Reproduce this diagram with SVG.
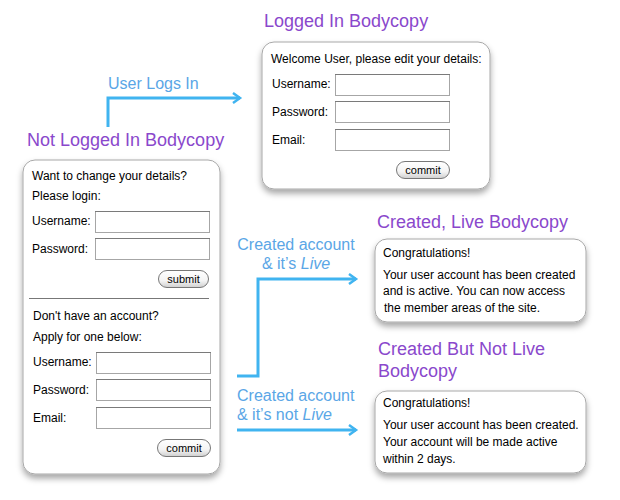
<svg xmlns="http://www.w3.org/2000/svg" width="620" height="500" viewBox="0 0 620 500">
<style>
.t{font-family:"Liberation Sans",Arial,sans-serif;font-size:18px;fill:#8a48cc}
.b{font-family:"Liberation Sans",Arial,sans-serif;font-size:12px;fill:#000}
.btn{font-family:"Liberation Sans",Arial,sans-serif;font-size:11px;fill:#000;text-anchor:middle}
.l{font-family:"Liberation Sans",Arial,sans-serif;font-size:16px;fill:#5aa6e6}
.box{fill:#fff;stroke:#a8a8a8;stroke-width:1;filter:url(#sh)}
.in{fill:#fff;stroke:#a6a6a6;stroke-width:1}
.intop{stroke:#7a7a7a;stroke-width:1}
.pill{fill:url(#bg);stroke:#777;stroke-width:1}
.c{fill:none;stroke:#40b4f0;stroke-width:3;marker-end:url(#ar)}
</style>
<defs>
<filter id="sh" x="-10%" y="-10%" width="120%" height="130%">
<feDropShadow dx="0" dy="4" stdDeviation="3" flood-color="#000" flood-opacity="0.35"/>
</filter>
<linearGradient id="bg" x1="0" y1="0" x2="0" y2="1">
<stop offset="0" stop-color="#fff"/>
<stop offset="0.6" stop-color="#f4f4f4"/>
<stop offset="1" stop-color="#cfcfcf"/>
</linearGradient>
<marker id="ar" markerUnits="userSpaceOnUse" markerWidth="14" markerHeight="14" refX="9" refY="6" orient="auto">
<path d="M2,1 L9,6 L2,11" fill="none" stroke="#40b4f0" stroke-width="2.5"/>
</marker>
</defs>

<g id="connectors">
<path class="c" d="M108,127 V98 H240"/>
<text class="l" x="108" y="89">User Logs In</text>
<path class="c" d="M237,376 H258 V279 H356"/>
<text class="l" x="296" y="250" text-anchor="middle">Created account</text>
<text class="l" x="296" y="269" text-anchor="middle">&amp; it’s <tspan font-style="italic">Live</tspan></text>
<path class="c" d="M237,430 H356"/>
<text class="l" x="237" y="401">Created account</text>
<text class="l" x="237" y="420">&amp; it’s not <tspan font-style="italic">Live</tspan></text>
</g>

<g id="logged-in">
<text class="t" x="264" y="27">Logged In Bodycopy</text>
<rect class="box" x="262" y="42" width="228" height="147" rx="12"/>
<text class="b" x="271" y="63">Welcome User, please edit your details:</text>
<text class="b" x="272" y="88">Username:</text>
<rect class="in" x="335.5" y="74.5" width="114" height="21"/>
<line class="intop" x1="335" y1="74.5" x2="450" y2="74.5"/>
<text class="b" x="272" y="116">Password:</text>
<rect class="in" x="335.5" y="101.5" width="114" height="21"/>
<line class="intop" x1="335" y1="101.5" x2="450" y2="101.5"/>
<text class="b" x="272" y="144">Email:</text>
<rect class="in" x="335.5" y="129.5" width="114" height="21"/>
<line class="intop" x1="335" y1="129.5" x2="450" y2="129.5"/>
<rect class="pill" x="396.5" y="161.5" width="53" height="17" rx="8.5"/>
<text class="btn" x="423" y="174">commit</text>
</g>

<g id="not-logged-in">
<text class="t" x="27" y="146">Not Logged In Bodycopy</text>
<rect class="box" x="23" y="160" width="197" height="314" rx="12"/>
<text class="b" x="32" y="180">Want to change your details?</text>
<text class="b" x="32" y="200">Please login:</text>
<text class="b" x="32" y="225">Username:</text>
<rect class="in" x="95.5" y="211.5" width="114" height="21"/>
<line class="intop" x1="95" y1="211.5" x2="210" y2="211.5"/>
<text class="b" x="32" y="253">Password:</text>
<rect class="in" x="95.5" y="238.5" width="114" height="21"/>
<line class="intop" x1="95" y1="238.5" x2="210" y2="238.5"/>
<rect class="pill" x="158.5" y="270.5" width="50" height="17" rx="8.5"/>
<text class="btn" x="183.5" y="283">submit</text>
<line x1="29" y1="298.5" x2="209" y2="298.5" stroke="#777" stroke-width="1"/>
<text class="b" x="33" y="320">Don't have an account?</text>
<text class="b" x="33" y="341">Apply for one below:</text>
<text class="b" x="33" y="366">Username:</text>
<rect class="in" x="96.5" y="352.5" width="114" height="21"/>
<line class="intop" x1="96" y1="352.5" x2="211" y2="352.5"/>
<text class="b" x="33" y="394">Password:</text>
<rect class="in" x="96.5" y="379.5" width="114" height="21"/>
<line class="intop" x1="96" y1="379.5" x2="211" y2="379.5"/>
<text class="b" x="33" y="422">Email:</text>
<rect class="in" x="96.5" y="407.5" width="114" height="21"/>
<line class="intop" x1="96" y1="407.5" x2="211" y2="407.5"/>
<rect class="pill" x="157.5" y="439.5" width="53" height="17" rx="8.5"/>
<text class="btn" x="184" y="452">commit</text>
</g>

<g id="created-live">
<text class="t" x="377" y="228">Created, Live Bodycopy</text>
<rect class="box" x="375" y="239" width="211" height="83" rx="12"/>
<text class="b" x="383" y="257">Congratulations!</text>
<text class="b" x="383" y="279">Your user account has been created</text>
<text class="b" x="383" y="295">and is active. You can now access</text>
<text class="b" x="384" y="312">the member areas of the site.</text>
</g>

<g id="created-not-live">
<text class="t" x="378" y="355">Created But Not Live</text>
<text class="t" x="378" y="377">Bodycopy</text>
<rect class="box" x="375" y="391" width="211" height="82" rx="12"/>
<text class="b" x="383" y="407">Congratulations!</text>
<text class="b" x="383" y="429">Your user account has been created.</text>
<text class="b" x="383" y="446">Your account will be made active</text>
<text class="b" x="383" y="463">within 2 days.</text>
</g>
</svg>
